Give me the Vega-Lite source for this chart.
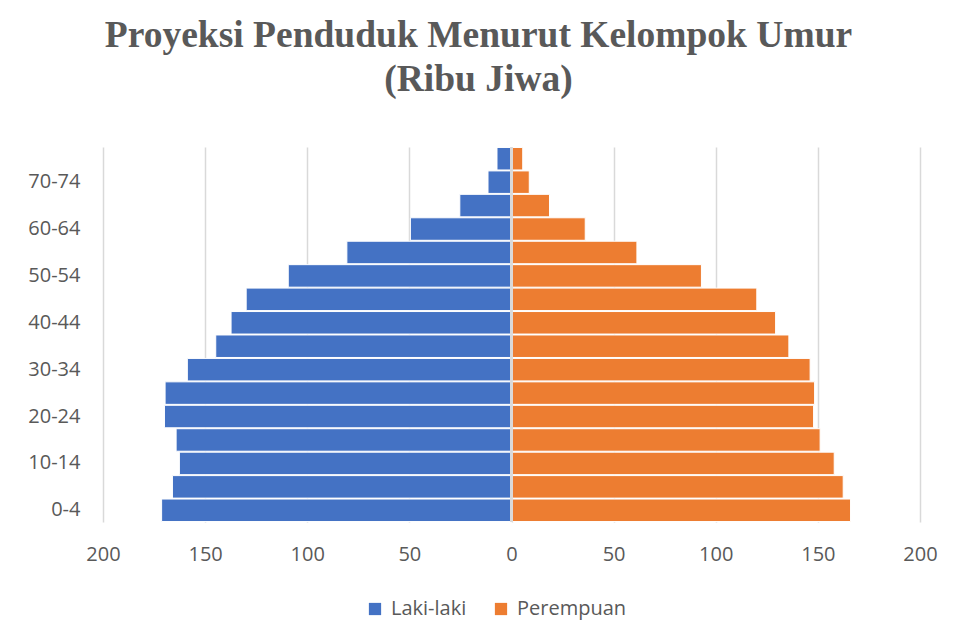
{
  "$schema": "https://vega.github.io/schema/vega-lite/v6.json",
  "width": 817,
  "height": 375,
  "autosize": {"type": "none"},
  "padding": {"left": 103, "top": 147, "right": 36, "bottom": 119},
  "background": "white",
  "title": {
    "text": ["Proyeksi Penduduk Menurut Kelompok Umur", "(Ribu Jiwa)"],
    "font": "Liberation Serif",
    "fontWeight": "bold",
    "fontSize": 37.5,
    "color": "#595959",
    "lineHeight": 44,
    "anchor": "middle",
    "dx": -33,
    "offset": 48
  },
  "data": {
    "values": [
      {"age": "0-4", "sex": "Laki-laki", "pop": 171.3},
      {"age": "5-9", "sex": "Laki-laki", "pop": 166.0},
      {"age": "10-14", "sex": "Laki-laki", "pop": 162.6},
      {"age": "15-19", "sex": "Laki-laki", "pop": 164.2},
      {"age": "20-24", "sex": "Laki-laki", "pop": 169.9},
      {"age": "25-29", "sex": "Laki-laki", "pop": 169.6},
      {"age": "30-34", "sex": "Laki-laki", "pop": 158.7},
      {"age": "35-39", "sex": "Laki-laki", "pop": 144.8},
      {"age": "40-44", "sex": "Laki-laki", "pop": 137.3},
      {"age": "45-49", "sex": "Laki-laki", "pop": 129.9},
      {"age": "50-54", "sex": "Laki-laki", "pop": 109.3},
      {"age": "55-59", "sex": "Laki-laki", "pop": 80.6},
      {"age": "60-64", "sex": "Laki-laki", "pop": 49.5},
      {"age": "65-69", "sex": "Laki-laki", "pop": 25.3},
      {"age": "70-74", "sex": "Laki-laki", "pop": 11.5},
      {"age": "75+", "sex": "Laki-laki", "pop": 7.1},
      {"age": "0-4", "sex": "Perempuan", "pop": 166.0},
      {"age": "5-9", "sex": "Perempuan", "pop": 162.4},
      {"age": "10-14", "sex": "Perempuan", "pop": 158.0},
      {"age": "15-19", "sex": "Perempuan", "pop": 151.1},
      {"age": "20-24", "sex": "Perempuan", "pop": 147.9},
      {"age": "25-29", "sex": "Perempuan", "pop": 148.4},
      {"age": "30-34", "sex": "Perempuan", "pop": 146.2},
      {"age": "35-39", "sex": "Perempuan", "pop": 135.8},
      {"age": "40-44", "sex": "Perempuan", "pop": 129.3},
      {"age": "45-49", "sex": "Perempuan", "pop": 120.1},
      {"age": "50-54", "sex": "Perempuan", "pop": 93.0},
      {"age": "55-59", "sex": "Perempuan", "pop": 61.4},
      {"age": "60-64", "sex": "Perempuan", "pop": 36.1},
      {"age": "65-69", "sex": "Perempuan", "pop": 18.6},
      {"age": "70-74", "sex": "Perempuan", "pop": 8.7},
      {"age": "75+", "sex": "Perempuan", "pop": 5.5}
    ]
  },
  "transform": [
    {"calculate": "datum.sex === 'Laki-laki' ? -datum.pop : datum.pop", "as": "signed"}
  ],
  "layer": [
    {
      "mark": {"type": "bar", "stroke": "white", "strokeWidth": 1},
      "encoding": {
        "y": {
          "field": "age",
          "type": "nominal",
          "sort": ["75+", "70-74", "65-69", "60-64", "55-59", "50-54", "45-49", "40-44", "35-39", "30-34", "25-29", "20-24", "15-19", "10-14", "5-9", "0-4"],
          "scale": {"paddingInner": 0.04, "paddingOuter": 0.02},
          "axis": {
            "title": null,
            "values": ["0-4", "10-14", "20-24", "30-34", "40-44", "50-54", "60-64", "70-74"],
            "ticks": false,
            "tickSize": 0,
            "domain": false,
            "grid": false,
            "labelPadding": 23,
            "labelFont": "Open Sans",
            "labelFontSize": 20,
            "labelColor": "#595959"
          }
        },
        "x": {
          "field": "signed",
          "type": "quantitative",
          "scale": {"domain": [-200, 200], "nice": false},
          "axis": {
            "title": null,
            "values": [-200, -150, -100, -50, 0, 50, 100, 150, 200],
            "labelExpr": "abs(datum.value)",
            "labelFlush": false,
            "labelBound": false,
            "labelOverlap": false,
            "ticks": false,
            "tickSize": 0,
            "domain": false,
            "grid": true,
            "gridColor": "#d9d9d9",
            "gridWidth": 1.5,
            "labelPadding": 22,
            "labelFont": "Open Sans",
            "labelFontSize": 20,
            "labelColor": "#595959"
          }
        },
        "color": {
          "field": "sex",
          "type": "nominal",
          "scale": {"domain": ["Laki-laki", "Perempuan"], "range": ["#4472C4", "#ED7D31"]},
          "legend": {
            "title": null,
            "orient": "none",
            "direction": "horizontal",
            "legendX": 262,
            "legendY": 452,
            "symbolType": "square",
            "symbolSize": 150,
            "symbolStrokeWidth": 0,
            "labelFont": "Open Sans",
            "labelFontSize": 20,
            "labelColor": "#595959",
            "labelOffset": 6,
            "columnPadding": 24
          }
        }
      }
    },
    {
      "mark": {"type": "rule", "color": "#d9d9d9", "strokeWidth": 1.5},
      "encoding": {
        "x": {"datum": 0, "type": "quantitative"}
      }
    }
  ],
  "config": {"view": {"stroke": null}}
}
